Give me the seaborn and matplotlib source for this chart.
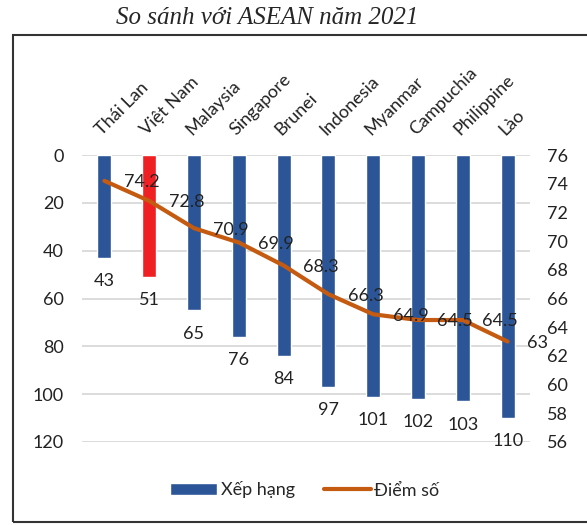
import numpy as np
import pandas as pd
import seaborn as sns
import matplotlib.pyplot as plt
from matplotlib.patches import Patch, Rectangle
from matplotlib.lines import Line2D

countries = ['Thái Lan', 'Việt Nam', 'Malaysia', 'Singapore', 'Brunei',
             'Indonesia', 'Myanmar', 'Campuchia', 'Philippine', 'Lào']
rank = [43, 51, 65, 76, 84, 97, 101, 102, 103, 110]
score = [74.2, 72.8, 70.9, 69.9, 68.3, 66.3, 64.9, 64.5, 64.5, 63]

blue = '#2B5597'
red = '#EE2024'
orange = '#C55A11'

sns.set_style('white')
plt.rcParams['font.family'] = ['Lato', 'Noto Sans', 'DejaVu Sans']
fs = 13

df = pd.DataFrame({'country': countries, 'rank': rank, 'score': score})

fig = plt.figure(figsize=(5.87, 5.25), dpi=100)
ax = fig.add_axes([82 / 587, 1 - 442 / 525, (530 - 82) / 587, (442 - 155) / 525])

palette = [red if c == 'Việt Nam' else blue for c in countries]
sns.barplot(data=df, x='country', y='rank', hue='country', palette=palette,
            width=0.31, legend=False, ax=ax, saturation=1)
ax.set_ylim(120, 0)
ax.set_yticks(range(0, 121, 20))
ax.set_xlim(-0.5, len(countries) - 0.5)
ax.yaxis.grid(True, color='#D9D9D9', linewidth=1.3)
ax.set_axisbelow(True)
for s in ax.spines.values():
    s.set_visible(False)
ax.set_xlabel('')
ax.set_ylabel('')
ax.tick_params(axis='y', length=0, pad=13, labelsize=fs, colors='#222222')
ax.xaxis.tick_top()
ax.tick_params(axis='x', length=0, pad=12, labelsize=fs, colors='#222222')
ax.set_xticks(range(len(countries)))
ax.set_xticklabels(countries, rotation=45, ha='left', rotation_mode='anchor')

for i, r in enumerate(rank):
    ax.annotate(str(r), (i, r), xytext=(0, -11), textcoords='offset points',
                ha='center', va='top', fontsize=fs, color='#222222')

ax2 = ax.twinx()
sns.lineplot(x=np.arange(len(countries)), y=score, color=orange, linewidth=3,
             ax=ax2)
ax2.set_ylim(56, 76)
ax2.set_yticks(range(56, 77, 2))
ax2.set_xlim(-0.5, len(countries) - 0.5)
for s in ax2.spines.values():
    s.set_visible(False)
ax2.tick_params(axis='y', length=0, pad=12, labelsize=fs, colors='#222222')
for i, v in enumerate(score):
    ax2.annotate(f'{v:g}', (i, v), xytext=(14, -1), textcoords='offset points',
                 ha='left', va='center', fontsize=fs, color='#222222')

handles = [Patch(facecolor=blue, label='Xếp hạng'),
           Line2D([0], [0], color=orange, linewidth=3, solid_capstyle='round',
                  label='Điểm số')]
fig.legend(handles=handles, loc='center', bbox_to_anchor=(305 / 587, 1 - 490 / 525),
           ncol=2, frameon=False, fontsize=fs, handlelength=2.6, handleheight=0.6,
           handletextpad=0.2, columnspacing=1.6)

fig.patches.append(Rectangle((13 / 587, 1 - 522 / 525), 1.0, (522 - 35) / 525,
                             transform=fig.transFigure, fill=False,
                             edgecolor='#333333', linewidth=1.5))

fig.text(267 / 587, 1 - 18 / 525, 'So sánh với ASEAN năm 2021', ha='center',
         va='center', fontsize=18, style='italic', family='Liberation Serif')

fig.savefig('out.png', dpi=100)
